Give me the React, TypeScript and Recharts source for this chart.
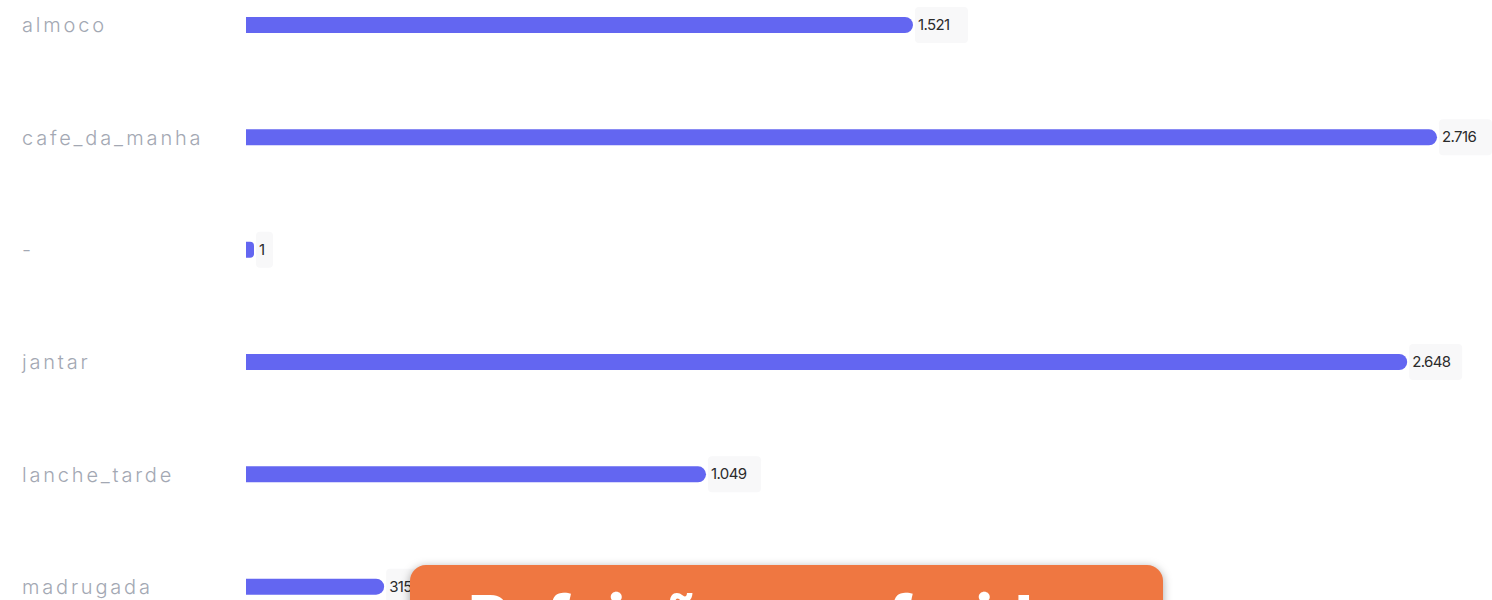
import { BarChart, Bar, XAxis, YAxis, LabelList } from "recharts";

// refeições e quantidade
const categories = ["almoco", "cafe_da_manha", "-", "jantar", "lanche_tarde", "madrugada"];
const totals = [1521, 2716, 1, 2648, 1049, 315];

const data = categories.map((name, i) => ({ name, total: totals[i] }));

const fmt = (v: number) => v.toLocaleString("pt-BR");

function CatTick(props: any) {
    const { y, payload } = props;
    return (
        <text
            x={22}
            y={y}
            dy={7}
            textAnchor="start"
            fill="#a3a8b3"
            fontSize={20}
            fontFamily="Inter, sans-serif"
            fontWeight={300}
            letterSpacing={2.8}
        >
            {payload.value}
        </text>
    );
}

function ValueLabel(props: any) {
    const { x, y, width, height, value } = props;
    const tx = x + width + 4;
    const cy = y + height / 2;
    const txt = fmt(value);
    const w = txt.length * 9 + 8;
    return (
        <g>
            <rect x={tx - 2} y={cy - 18} width={w} height={36} rx={4} fill="#f8f8f9" />
            <text
                x={tx + 1}
                y={cy}
                dy={5}
                fill="#2b2b2b"
                fontSize={15}
                fontFamily="Inter, sans-serif"
                letterSpacing={-0.6}
            >
                {txt}
            </text>
        </g>
    );
}

export default function App() {
    return (
        <div
            style={{
                position: "absolute",
                top: 0,
                left: 0,
                width: 1492,
                height: 600,
                overflow: "hidden",
                background: "#fff",
            }}
        >
            <div style={{ position: "absolute", top: -41, left: 0 }}>
                <BarChart
                    layout="vertical"
                    width={1492}
                    height={694}
                    data={data}
                    margin={{ top: 10, right: 55, bottom: 10, left: 0 }}
                >
                    <XAxis type="number" hide domain={[0, "dataMax"]} />
                    <YAxis
                        type="category"
                        dataKey="name"
                        width={246}
                        axisLine={false}
                        tickLine={false}
                        tick={<CatTick />}
                    />
                    <Bar
                        dataKey="total"
                        fill="#6366f1"
                        barSize={16}
                        minPointSize={8}
                        radius={[0, 8, 8, 0]}
                        isAnimationActive={false}
                    >
                        <LabelList dataKey="total" content={<ValueLabel />} />
                    </Bar>
                </BarChart>
            </div>

            {/* caixa laranja do título */}
            <div
                style={{
                    position: "absolute",
                    left: 410,
                    top: 565,
                    width: 753,
                    height: 120,
                    background: "#ef7741",
                    borderRadius: 16,
                    boxShadow: "0 2px 10px rgba(0,0,0,0.35)",
                    color: "#fff",
                    fontFamily: "Inter, sans-serif",
                    fontWeight: 800,
                    fontSize: 62,
                    lineHeight: 1,
                    textAlign: "center",
                    paddingTop: 22,
                    boxSizing: "border-box",
                }}
            >
                Refeições preferidas
            </div>
        </div>
    );
}
